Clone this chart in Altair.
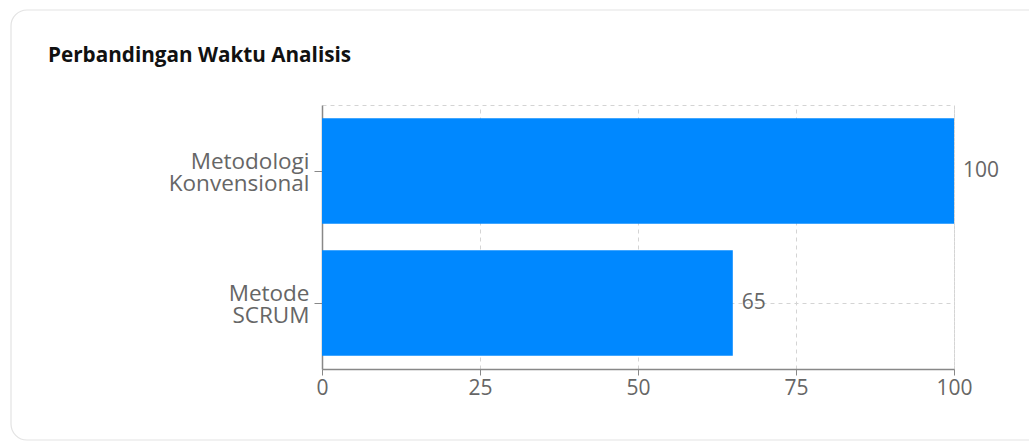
import altair as alt
import pandas as pd

categories = ["Metodologi Konvensional", "Metode SCRUM"]
values = [100, 65]
x_ticks = [0, 25, 50, 75, 100]
title_text = "Perbandingan Waktu Analisis"

df = pd.DataFrame({"cat": categories, "val": values})

FONT = "Open Sans"
W, H = 632, 264
LBL = 21

card = alt.Chart(alt.Data(values=[{}])).mark_rect(
    fillOpacity=0, stroke="#e3e3e3", strokeWidth=1.2, cornerRadius=16, clip=False
).encode(
    x=alt.value(-311), x2=alt.value(760), y=alt.value(-95), y2=alt.value(335)
)

title = alt.Chart(alt.Data(values=[{"t": title_text}])).mark_text(
    align="left", baseline="middle", font=FONT, fontSize=20.7, fontWeight="bold",
    color="#111111", clip=False
).encode(x=alt.value(-274), y=alt.value(-49), text="t:N")

bars = alt.Chart(df).mark_bar(color="#0088ff").encode(
    x=alt.X("val:Q", scale=alt.Scale(domain=[0, 100], nice=False),
            axis=alt.Axis(values=x_ticks, title=None, grid=True, gridColor="#d4d4d4",
                          gridDash=[4, 4], domainColor="#888888", domainWidth=1.5,
                          tickColor="#888888", tickSize=6, labelFont=FONT,
                          labelFontSize=LBL, labelColor="#666666", labelPadding=2,
                          labelFlush=False)),
    y=alt.Y("cat:N", sort=categories,
            scale=alt.Scale(paddingInner=0.2, paddingOuter=0.1),
            axis=alt.Axis(title=None, grid=True, gridColor="#d4d4d4", gridDash=[4, 4],
                          domainColor="#888888", domainWidth=1.5, tickColor="#888888",
                          tickSize=8, labelFont=FONT, labelFontSize=22.5,
                          labelColor="#666666", labelPadding=5, labelOffset=-9,
                          labelExpr="split(datum.label, ' ')", labelLineHeight=22)),
)

labels = alt.Chart(df).mark_text(
    align="left", baseline="middle", dx=9, font=FONT, fontSize=LBL, color="#666666"
).encode(
    x=alt.X("val:Q"), y=alt.Y("cat:N", sort=categories), text="val:Q"
)

chart = alt.layer(card, bars, labels, title).properties(
    width=W, height=H,
    padding={"left": 322, "top": 105, "right": 75, "bottom": 77},
    autosize=alt.AutoSizeParams(type="none"),
    background="white",
).configure_view(stroke="#d4d4d4", strokeDash=[4, 4])

chart.save("out.html", embed_options={"renderer": "svg", "actions": False})
